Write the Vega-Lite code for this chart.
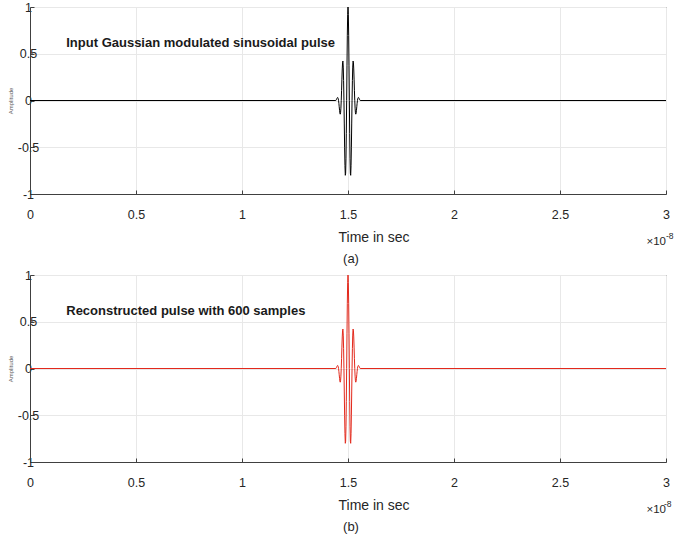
{
  "$schema": "https://vega.github.io/schema/vega-lite/v6.json",
  "padding": {"left": 6, "top": 0, "right": 2, "bottom": 2},
  "background": "white",
  "config": {
    "font": "Liberation Sans",
    "view": {"stroke": "#404040", "strokeWidth": 1},
    "axis": {
      "domainColor": "#404040",
      "tickColor": "#404040",
      "gridColor": "#e8e8e8",
      "labelColor": "#262626",
      "titleColor": "#262626",
      "labelFont": "Liberation Sans",
      "titleFont": "Liberation Sans",
      "titleFontWeight": "normal"
    },
    "concat": {"spacing": 2}
  },
  "datasets": {
    "pulse": [
      {"t": 0, "a": 0},
      {"t": 1.44262, "a": 0},
      {"t": 1.44422, "a": 0.0054},
      {"t": 1.44581, "a": 0.0126},
      {"t": 1.44741, "a": 0.0208},
      {"t": 1.44900, "a": 0.0282},
      {"t": 1.45059, "a": 0.0324},
      {"t": 1.45219, "a": 0.0307},
      {"t": 1.45378, "a": 0.0204},
      {"t": 1.45537, "a": 0},
      {"t": 1.45697, "a": -0.0302},
      {"t": 1.45856, "a": -0.0670},
      {"t": 1.46016, "a": -0.1047},
      {"t": 1.46175, "a": -0.1343},
      {"t": 1.46334, "a": -0.1463},
      {"t": 1.46494, "a": -0.1309},
      {"t": 1.46653, "a": -0.0823},
      {"t": 1.46812, "a": 0},
      {"t": 1.46972, "a": 0.1088},
      {"t": 1.47131, "a": 0.2286},
      {"t": 1.47291, "a": 0.3374},
      {"t": 1.47450, "a": 0.4098},
      {"t": 1.47609, "a": 0.4218},
      {"t": 1.47769, "a": 0.3572},
      {"t": 1.47928, "a": 0.2124},
      {"t": 1.48087, "a": 0},
      {"t": 1.48247, "a": -0.2511},
      {"t": 1.48406, "a": -0.4990},
      {"t": 1.48566, "a": -0.6967},
      {"t": 1.48725, "a": -0.8001},
      {"t": 1.48884, "a": -0.7788},
      {"t": 1.49044, "a": -0.6237},
      {"t": 1.49203, "a": -0.3508},
      {"t": 1.49362, "a": 0},
      {"t": 1.49522, "a": 0.3709},
      {"t": 1.49681, "a": 0.6973},
      {"t": 1.49841, "a": 0.9207},
      {"t": 1.5, "a": 1},
      {"t": 1.50159, "a": 0.9207},
      {"t": 1.50319, "a": 0.6973},
      {"t": 1.50478, "a": 0.3709},
      {"t": 1.50638, "a": 0},
      {"t": 1.50797, "a": -0.3508},
      {"t": 1.50956, "a": -0.6237},
      {"t": 1.51116, "a": -0.7788},
      {"t": 1.51275, "a": -0.8001},
      {"t": 1.51434, "a": -0.6967},
      {"t": 1.51594, "a": -0.4990},
      {"t": 1.51753, "a": -0.2511},
      {"t": 1.51913, "a": 0},
      {"t": 1.52072, "a": 0.2124},
      {"t": 1.52231, "a": 0.3572},
      {"t": 1.52391, "a": 0.4218},
      {"t": 1.52550, "a": 0.4098},
      {"t": 1.52709, "a": 0.3374},
      {"t": 1.52869, "a": 0.2286},
      {"t": 1.53028, "a": 0.1088},
      {"t": 1.53188, "a": 0},
      {"t": 1.53347, "a": -0.0823},
      {"t": 1.53506, "a": -0.1309},
      {"t": 1.53666, "a": -0.1463},
      {"t": 1.53825, "a": -0.1343},
      {"t": 1.53984, "a": -0.1047},
      {"t": 1.54144, "a": -0.0670},
      {"t": 1.54303, "a": -0.0302},
      {"t": 1.54463, "a": 0},
      {"t": 1.54622, "a": 0.0204},
      {"t": 1.54781, "a": 0.0307},
      {"t": 1.54941, "a": 0.0324},
      {"t": 1.55100, "a": 0.0282},
      {"t": 1.55259, "a": 0.0208},
      {"t": 1.55419, "a": 0.0126},
      {"t": 1.55578, "a": 0.0054},
      {"t": 1.55738, "a": 0},
      {"t": 3, "a": 0}
    ]
  },
  "vconcat": [
    {
      "width": 636,
      "height": 187,
      "title": {"text": "(a)", "orient": "bottom", "anchor": "middle", "fontSize": 13, "fontWeight": "normal", "color": "#262626", "offset": 5, "dx": 3},
      "layer": [
        {
          "data": {"name": "pulse"},
          "mark": {"type": "line", "color": "black", "strokeWidth": 1, "clip": true},
          "encoding": {
            "x": {"field": "t", "type": "quantitative", "scale": {"domain": [0, 3], "nice": false},
              "axis": {"values": [0, 0.5, 1, 1.5, 2, 2.5, 3], "labelExpr": "toString(datum.value)", "title": "Time in sec", "titleFontSize": 14, "titleAlign": "left", "titleAnchor": "start", "titleX": 308, "titleY": 47, "titleBaseline": "alphabetic", "labelFontSize": 12.5, "labelPadding": 18, "tickSize": -4, "labelFlush": false}},
            "y": {"field": "a", "type": "quantitative", "scale": {"domain": [-1, 1], "nice": false},
              "axis": {"values": [-1, -0.5, 0, 0.5, 1], "labelExpr": "toString(datum.value)", "title": "Amplitude", "titleFontSize": 6, "titleColor": "#555", "labelFontSize": 12.5, "labelAlign": "center", "labelPadding": 6, "tickSize": -4, "titlePadding": 4, "labelFlush": false}}
          }
        },
        {
          "data": {"values": [{"x": 0.171, "y": 0.62, "label": "Input Gaussian modulated sinusoidal pulse"}]},
          "mark": {"type": "text", "fontWeight": "bold", "fontSize": 13, "align": "left", "baseline": "middle", "color": "#1a1a1a"},
          "encoding": {"x": {"field": "x", "type": "quantitative"}, "y": {"field": "y", "type": "quantitative"}, "text": {"field": "label"}}
        },
        {
          "data": {"values": [{"x": 3, "y": -1, "label": "×10"}]},
          "mark": {"type": "text", "fontSize": 11.5, "align": "right", "baseline": "alphabetic", "dx": 0, "dy": 51, "color": "#262626"},
          "encoding": {"x": {"field": "x", "type": "quantitative"}, "y": {"field": "y", "type": "quantitative"}, "text": {"field": "label"}}
        },
        {
          "data": {"values": [{"x": 3, "y": -1, "label": "-8"}]},
          "mark": {"type": "text", "fontSize": 8.5, "align": "left", "baseline": "alphabetic", "dx": 0, "dy": 45, "color": "#262626"},
          "encoding": {"x": {"field": "x", "type": "quantitative"}, "y": {"field": "y", "type": "quantitative"}, "text": {"field": "label"}}
        }
      ]
    },
    {
      "width": 636,
      "height": 187,
      "title": {"text": "(b)", "orient": "bottom", "anchor": "middle", "fontSize": 13, "fontWeight": "normal", "color": "#262626", "offset": 5, "dx": 3},
      "layer": [
        {
          "data": {"name": "pulse"},
          "mark": {"type": "line", "color": "#e3291c", "strokeWidth": 1, "clip": true},
          "encoding": {
            "x": {"field": "t", "type": "quantitative", "scale": {"domain": [0, 3], "nice": false},
              "axis": {"values": [0, 0.5, 1, 1.5, 2, 2.5, 3], "labelExpr": "toString(datum.value)", "title": "Time in sec", "titleFontSize": 14, "titleAlign": "left", "titleAnchor": "start", "titleX": 308, "titleY": 47, "titleBaseline": "alphabetic", "labelFontSize": 12.5, "labelPadding": 18, "tickSize": -4, "labelFlush": false}},
            "y": {"field": "a", "type": "quantitative", "scale": {"domain": [-1, 1], "nice": false},
              "axis": {"values": [-1, -0.5, 0, 0.5, 1], "labelExpr": "toString(datum.value)", "title": "Amplitude", "titleFontSize": 6, "titleColor": "#555", "labelFontSize": 12.5, "labelAlign": "center", "labelPadding": 6, "tickSize": -4, "titlePadding": 4, "labelFlush": false}}
          }
        },
        {
          "data": {"values": [{"x": 0.171, "y": 0.612, "label": "Reconstructed pulse with 600 samples"}]},
          "mark": {"type": "text", "fontWeight": "bold", "fontSize": 13, "align": "left", "baseline": "middle", "color": "#1a1a1a"},
          "encoding": {"x": {"field": "x", "type": "quantitative"}, "y": {"field": "y", "type": "quantitative"}, "text": {"field": "label"}}
        },
        {
          "data": {"values": [{"x": 3, "y": -1, "label": "×10"}]},
          "mark": {"type": "text", "fontSize": 11.5, "align": "right", "baseline": "alphabetic", "dx": 0, "dy": 51, "color": "#262626"},
          "encoding": {"x": {"field": "x", "type": "quantitative"}, "y": {"field": "y", "type": "quantitative"}, "text": {"field": "label"}}
        },
        {
          "data": {"values": [{"x": 3, "y": -1, "label": "-8"}]},
          "mark": {"type": "text", "fontSize": 8.5, "align": "left", "baseline": "alphabetic", "dx": -2, "dy": 45, "color": "#262626"},
          "encoding": {"x": {"field": "x", "type": "quantitative"}, "y": {"field": "y", "type": "quantitative"}, "text": {"field": "label"}}
        }
      ]
    }
  ]
}
